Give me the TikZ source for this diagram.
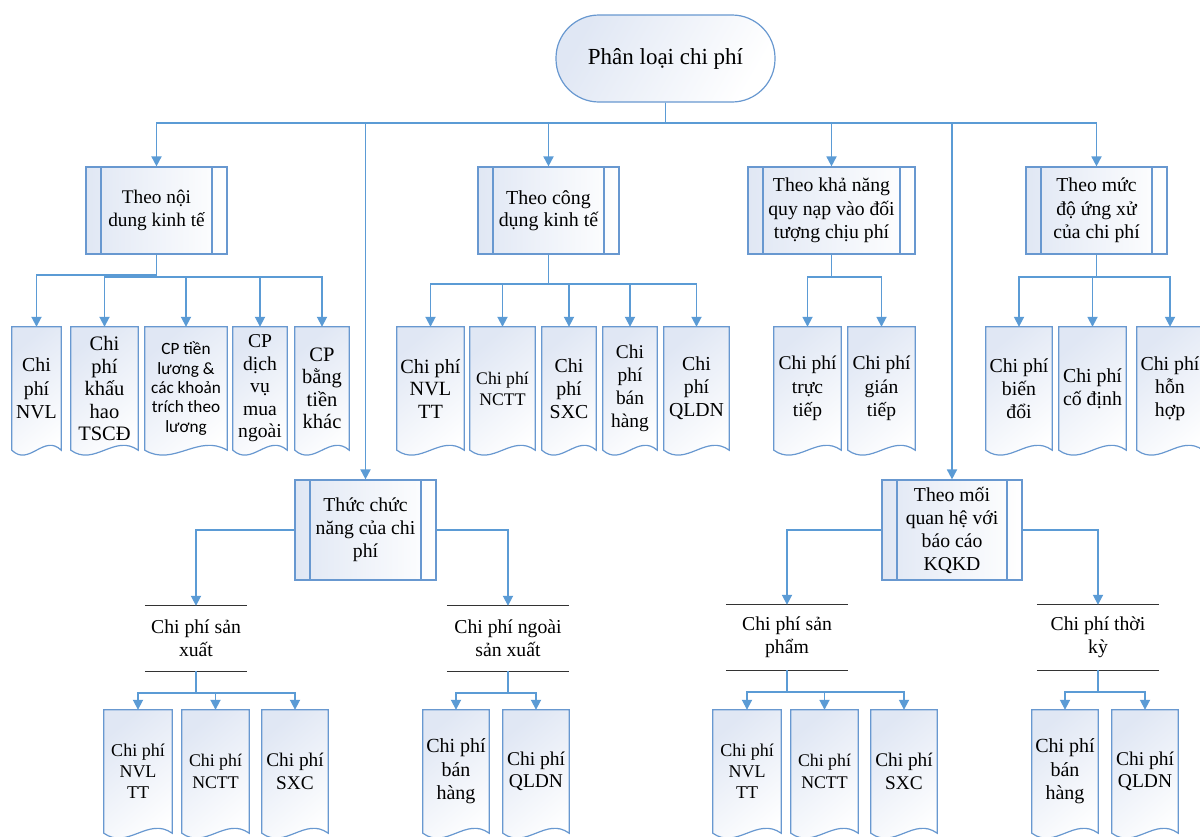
\documentclass[tikz,border=0pt]{standalone}
\usepackage{fontspec}
\setmainfont{Liberation Serif}
\newfontfamily\cbfont{Carlito}
\usetikzlibrary{arrows.meta,calc,backgrounds}

\definecolor{lineblue}{HTML}{5B9BD5}
\definecolor{edgeblue}{HTML}{6898D0}
\definecolor{tintblue}{HTML}{E0E7F4}
\definecolor{storeline}{HTML}{333333}

\newcommand{\fs}[2]{\fontsize{#1}{#2}\selectfont}

\tikzset{
  conn/.style={draw=lineblue, line width=1.8pt},
  arr/.style={conn, -{Triangle[width=10pt,length=10pt]}},
  termbox/.style={draw=edgeblue, line width=1.2pt, rounded corners=43pt,
    minimum width=219pt, minimum height=87pt, inner sep=0pt,
    top color=tintblue, bottom color=white, shading angle=60,
    font=\fs{23}{26}},
  predef/.style 2 args={draw=edgeblue, line width=1.2pt,
    left color=tintblue, right color=white,
    minimum width=#1, minimum height=#2, inner sep=1pt, align=center,
    font=\fs{19.7}{23},
    path picture={\draw[edgeblue, line width=1.2pt]
      ([xshift=15pt]path picture bounding box.north west) --
      ([xshift=15pt]path picture bounding box.south west)
      ([xshift=-15pt]path picture bounding box.north east) --
      ([xshift=-15pt]path picture bounding box.south east);}},
  docbox/.style={minimum width=#1, minimum height=123pt, inner sep=0pt,
    align=center, font=\fs{19.8}{23.2}},
  docline/.style={draw=edgeblue, line width=1.2pt,
    top color=tintblue, bottom color=white, shading angle=40},
  storebox/.style={minimum width=#1, minimum height=65pt, inner sep=0pt,
    align=center, font=\fs{19.7}{23}},
  storeedge/.style={draw=storeline, line width=1.1pt},
}

\begin{document}
\begin{tikzpicture}[x=1pt, y=-1pt]
\useasboundingbox (0,0) rectangle (1200,836);

% root
\node[termbox] (term) at (665.5,58.5) {Phân loại chi phí};

% first level
\node[predef={141pt}{87pt}, font=\fs{19.3}{22.5}] (b1) at (156.5,210.5) {Theo nội\\dung kinh tế};
\node[predef={141pt}{87pt}, font=\fs{19.9}{22.5}] (b2) at (548.5,210.5) {Theo công\\dụng kinh tế};
\node[predef={167pt}{87pt}, font=\fs{19.7}{23.5}] (b3) at (831.5,210.5) {Theo khả năng\\quy nạp vào đối\\tượng chịu phí};
\node[predef={141pt}{87pt}, font=\fs{19.7}{23.5}] (b4) at (1096.5,210.5) {Theo mức\\độ ứng xử\\của chi phí};
\node[predef={141pt}{100pt}] (b5) at (365.5,530) {Thức chức\\năng của chi\\phí};
\node[predef={140pt}{100pt}] (b6) at (952,530) {Theo mối\\quan hệ với\\báo cáo\\KQKD};

% documents under b1
\node[docbox=49pt, font=\fs{19.8}{23.3}] (d11) at (36.5,388.5) {Chi\\phí\\NVL};
\node[docbox=67pt, font=\fs{20.5}{22.5}] (d12) at (104.5,388.5) {Chi\\phí\\khấu\\hao\\TSCĐ};
\node[docbox=82pt, font=\cbfont\fs{17.2}{19.3}] (d13) at (186,388.5) {CP tiền\\lương \&\\các khoản\\trích theo\\lương};
\node[docbox=54pt, font=\fs{19.6}{22.5}] (d14) at (260,388.5) {CP\\dịch\\vụ\\mua\\ngoài};
\node[docbox=54pt, font=\fs{20.5}{22.5}] (d15) at (322,388.5) {CP\\bằng\\tiền\\khác};

% documents under b2
\node[docbox=67pt, font=\fs{20.2}{22.5}] (d21) at (430.5,388.5) {Chi phí\\NVL\\TT};
\node[docbox=65pt, font=\fs{17.7}{21}] (d22) at (502.5,388.5) {Chi phí\\NCTT};
\node[docbox=54pt] (d23) at (569,388.5) {Chi\\phí\\SXC};
\node[docbox=54pt, font=\fs{19.4}{23.2}] (d24) at (630,388.5) {Chi\\phí\\bán\\hàng};
\node[docbox=65pt] (d25) at (696.5,388.5) {Chi\\phí\\QLDN};

% documents under b3
\node[docbox=67pt, font=\fs{19.5}{23.3}] (d31) at (807.5,388.5) {Chi phí\\trực\\tiếp};
\node[docbox=67pt, font=\fs{19.5}{23.3}] (d32) at (881.5,388.5) {Chi phí\\gián\\tiếp};

% documents under b4
\node[docbox=66pt] (d41) at (1019,388.5) {Chi phí\\biến\\đổi};
\node[docbox=67pt] (d42) at (1092.5,388.5) {Chi phí\\cố định};
\node[docbox=66pt] (d43) at (1170,388.5) {Chi phí\\hỗn\\hợp};

% stores under b5 and b6
\node[storebox=102pt] (s1) at (196,638.5) {Chi phí sản\\xuất};
\node[storebox=122pt] (s2) at (508,638.5) {Chi phí ngoài\\sản xuất};
\node[storebox=122pt] (s3) at (787,637.5) {Chi phí sản\\phẩm};
\node[storebox=122pt] (s4) at (1098,637.5) {Chi phí thời\\kỳ};

% lower documents
\node[docbox=68pt, font=\fs{18}{21}] (e11) at (138,771.5) {Chi phí\\NVL\\TT};
\node[docbox=67pt, font=\fs{17.8}{21.5}] (e12) at (215.5,771.5) {Chi phí\\NCTT};
\node[docbox=66pt, font=\fs{19.3}{22.5}] (e13) at (295,771.5) {Chi phí\\SXC};
\node[docbox=66pt, font=\fs{20}{23.5}] (e21) at (456,771.5) {Chi phí\\bán\\hàng};
\node[docbox=66pt, font=\fs{19.5}{22.5}] (e22) at (536,771.5) {Chi phí\\QLDN};
\node[docbox=68pt, font=\fs{18}{21}] (e31) at (747,771.5) {Chi phí\\NVL\\TT};
\node[docbox=67pt, font=\fs{17.8}{21.5}] (e32) at (824.5,771.5) {Chi phí\\NCTT};
\node[docbox=66pt, font=\fs{19.3}{22.5}] (e33) at (904,771.5) {Chi phí\\SXC};
\node[docbox=66pt, font=\fs{20}{23.5}] (e41) at (1065,771.5) {Chi phí\\bán\\hàng};
\node[docbox=66pt, font=\fs{19.5}{22.5}] (e42) at (1145,771.5) {Chi phí\\QLDN};

% document outlines with wavy bottom edge, behind the text
\begin{scope}[on background layer]
\foreach \n in {d11,d12,d13,d14,d15,d21,d22,d23,d24,d25,d31,d32,d41,d42,d43,
                e11,e12,e13,e21,e22,e31,e32,e33,e41,e42}{
  \draw[docline] (\n.north west) -- (\n.north east) -- (\n.south east)
    .. controls ($(\n.south east)!0.35!(\n.south west)+(0,-17)$)
       and ($(\n.south east)!0.65!(\n.south west)+(0,17)$) .. (\n.south west)
    -- cycle;
}
\end{scope}

% store top and bottom rules
\foreach \n in {s1,s2,s3,s4}{
  \draw[storeedge] (\n.north west) -- (\n.north east)
                   (\n.south west) -- (\n.south east);
}

% root to first level
\foreach \n in {b1,b5,b2,b3,b6,b4}{
  \draw[arr] (term.south) -- ++(0,20.5) -| (\n.north);
}

% b1 children
\draw[arr] (b1.south) -- ++(0,20) -| (d11.north);
\foreach \n in {d12,d13,d14,d15}{
  \draw[arr] (b1.south) -- ++(0,22) -| (\n.north);
}
% b2 children
\foreach \n in {d21,d22,d23,d24,d25}{
  \draw[arr] (b2.south) -- ++(0,29) -| (\n.north);
}
% b3 children
\foreach \n in {d31,d32}{
  \draw[arr] (b3.south) -- ++(0,22) -| (\n.north);
}
% b4 children
\foreach \n in {d41,d42,d43}{
  \draw[arr] (b4.south) -- ++(0,22) -| (\n.north);
}

% b5 and b6 to stores
\draw[arr] (b5.west) -| (s1.north);
\draw[arr] (b5.east) -| (s2.north);
\draw[arr] (b6.west) -| (s3.north);
\draw[arr] (b6.east) -| (s4.north);

% stores to lower documents
\foreach \n in {e11,e12,e13}{
  \draw[arr] (s1.south) -- ++(0,22) -| (\n.north);
}
\foreach \n in {e21,e22}{
  \draw[arr] (s2.south) -- ++(0,22) -| (\n.north);
}
\foreach \n in {e31,e32,e33}{
  \draw[arr] (s3.south) -- ++(0,22) -| (\n.north);
}
\foreach \n in {e41,e42}{
  \draw[arr] (s4.south) -- ++(0,22) -| (\n.north);
}
\end{tikzpicture}
\end{document}
